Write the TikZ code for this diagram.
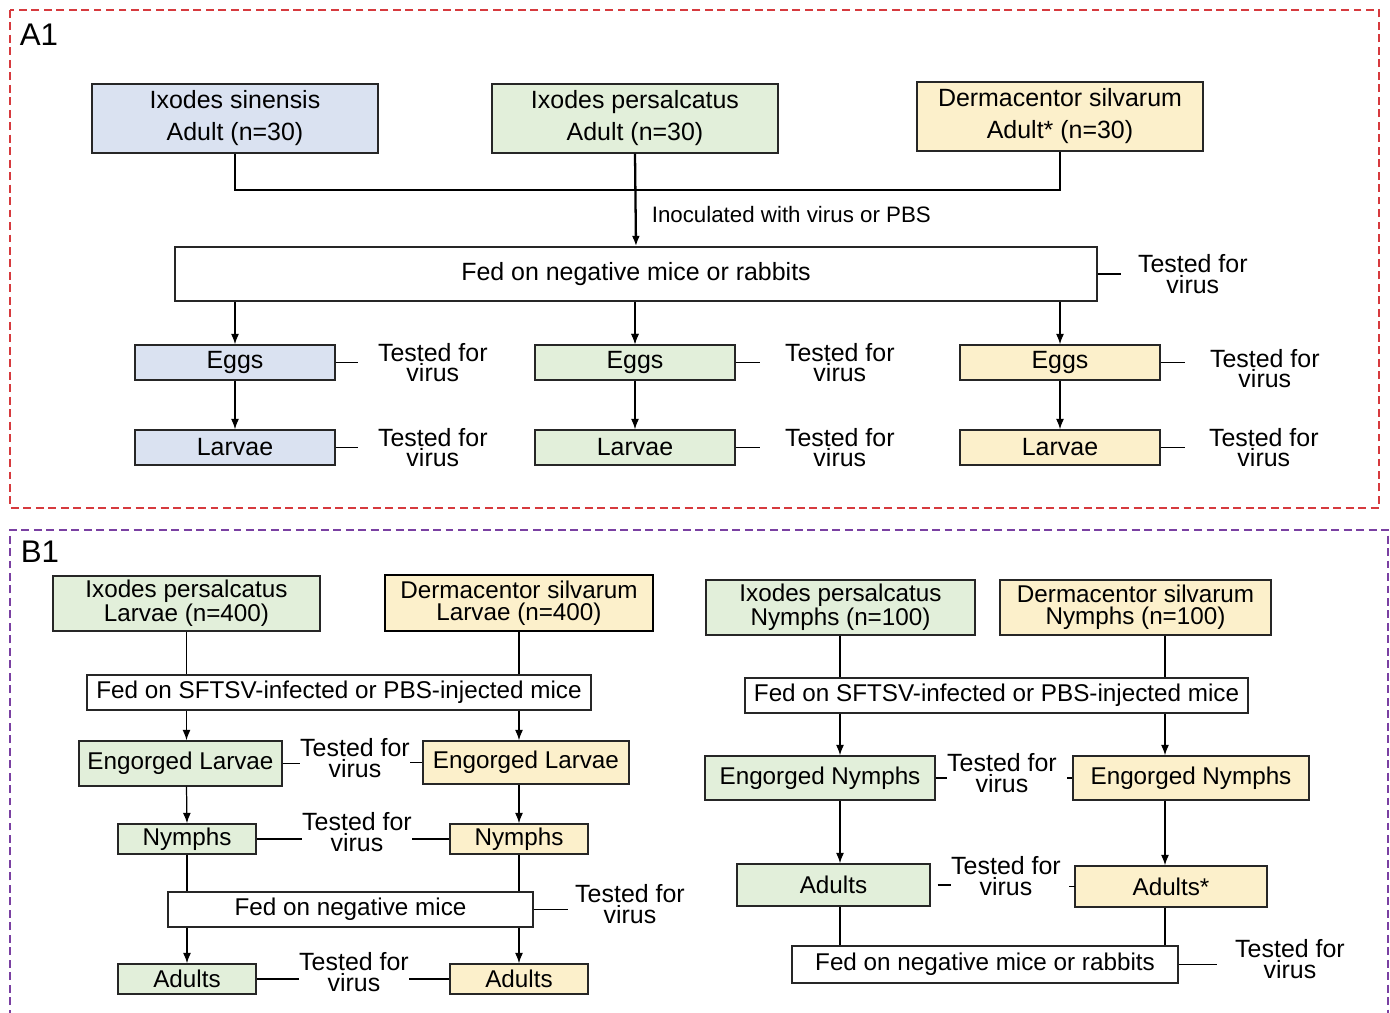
\documentclass[tikz,border=0pt]{standalone}
\usepackage{fontspec}
\setmainfont{Liberation Sans}
\usepackage{xcolor}
\usetikzlibrary{positioning,arrows.meta}
\definecolor{TickBlue}{HTML}{DAE2F1}
\definecolor{TickGreen}{HTML}{E2EFDA}
\definecolor{TickYellow}{HTML}{FCF0CB}
\definecolor{FrameRed}{HTML}{D63A3E}
\definecolor{FramePurple}{HTML}{7A40A2}
\newcommand{\unitpx}{0.02cm}

\begin{document}
\begin{tikzpicture}[x=0.02cm,y=-0.02cm,>={Latex[length=2.1mm,width=1.6mm]},
 box/.style={draw=black!85,line width=0.8pt,inner sep=0pt,align=center,font=\fontsize{14.2}{18.2}\selectfont},
 tbox/.style={box,font=\fontsize{13.8}{12.5}\selectfont},
 sz/.style 2 args={minimum width=#1*\unitpx,minimum height=#2*\unitpx},
 tested/.style={align=center,inner sep=0pt,font=\fontsize{14.2}{11.5}\selectfont},
 frame/.style={line width=0.9pt,dash pattern=on 4.5pt off 2.6pt},
 tag/.style={font=\fontsize{17.8}{20}\selectfont,inner sep=0pt},
 link/.style={line width=0.7pt}]
\useasboundingbox (0,0) rectangle (1390,1013);
\fill[white] (0,0) rectangle (1390,1013);

% ---------------- A1 ----------------
\draw[frame,draw=FrameRed] (10,10) rectangle (1379,508);
\node[tag] (tagA) at (39,35) {A1};

\node[box,fill=TickBlue,sz={286}{69}] (sinA) at (235,118.5) {Ixodes sinensis\\Adult (n=30)};
\node[box,fill=TickGreen,sz={286}{69}] (perA) at (635,118.5) {Ixodes persalcatus\\Adult (n=30)};
\node[box,fill=TickYellow,sz={286}{69}] (silA) at (1060,116.5) {Dermacentor silvarum\\Adult* (n=30)};
\node[box,sz={922}{54}] (fedA) at (636,274) {Fed on negative mice or rabbits};
\coordinate (joinA) at (635,190);

\draw[link] (sinA.south) |- (joinA) -| (silA.south);
\draw[->,line width=1.3pt] (perA.south) -- node[pos=0.66,right=0.3cm,inner sep=0pt,font=\fontsize{12.7}{14}\selectfont] (inoc) {Inoculated with virus or PBS} (fedA.north);

\node[box,fill=TickBlue,sz={200}{35}] (eggsB) at (235,362.5) {Eggs};
\node[box,fill=TickGreen,sz={200}{35}] (eggsG) at (635,362.5) {Eggs};
\node[box,fill=TickYellow,sz={200}{35}] (eggsY) at (1060,362.5) {Eggs};
\node[box,fill=TickBlue,sz={200}{35}] (larvB) at (235,447.5) {Larvae};
\node[box,fill=TickGreen,sz={200}{35}] (larvG) at (635,447.5) {Larvae};
\node[box,fill=TickYellow,sz={200}{35}] (larvY) at (1060,447.5) {Larvae};

\foreach \col in {B,G,Y} {
  \draw[->,link] (eggs\col.north |- fedA.south) -- (eggs\col.north);
  \draw[->,link] (eggs\col.south) -- (larv\col.north);
}
\draw[->,line width=1.3pt] (eggsG.north |- fedA.south) -- (eggsG.north);

\node[tested,right=0.84cm of eggsB] (tEggB) {Tested for\\virus};
\node[tested,right=0.98cm of eggsG] (tEggG) {Tested for\\virus};
\node[tested,right=0.98cm of eggsY,yshift=-0.12cm] (tEggY) {Tested for\\virus};
\node[tested,right=0.84cm of larvB] (tLarvB) {Tested for\\virus};
\node[tested,right=0.98cm of larvG] (tLarvG) {Tested for\\virus};
\node[tested,right=0.96cm of larvY] (tLarvY) {Tested for\\virus};
\node[tested,right=0.8cm of fedA] (tFedA) {Tested for\\virus};

\draw[link] (eggsB.east) -- ++(22,0);
\draw[link] (eggsG.east) -- ++(24,0);
\draw[link] (eggsY.east) -- ++(24,0);
\draw[link] (larvB.east) -- ++(22,0);
\draw[link] (larvG.east) -- ++(24,0);
\draw[link] (larvY.east) -- ++(24,0);
\draw[link] (fedA.east) -- ++(23,0);

% ---------------- B1 ----------------
\draw[frame,draw=FramePurple] (10,1030) -- (10,530) -- (1388,530) -- (1388,1030);
\node[tag] (tagB) at (40,552) {B1};

% larvae branch
\node[tbox,fill=TickGreen,sz={267}{55}] (perL) at (186.5,603.5) {Ixodes persalcatus\\Larvae (n=400)};
\node[tbox,fill=TickYellow,sz={268}{56},line width=1.5pt,draw=black] (silL) at (519,603) {Dermacentor silvarum\\Larvae (n=400)};
\node[tbox,sz={504}{35}] (fedL) at (339,692.5) {Fed on SFTSV-infected or PBS-injected mice};
\node[tbox,fill=TickGreen,sz={203}{45}] (engLG) at (180.5,763.5) {Engorged Larvae};
\node[tbox,fill=TickYellow,sz={206}{43}] (engLY) at (526,762.5) {Engorged Larvae};
\node[tbox,fill=TickGreen,sz={138}{30}] (nymG) at (187,839) {Nymphs};
\node[tbox,fill=TickYellow,sz={138}{30}] (nymY) at (519,839) {Nymphs};
\node[tbox,sz={365}{35}] (fedL2) at (350.5,909.5) {Fed on negative mice};
\node[tbox,fill=TickGreen,sz={138}{30}] (adG) at (187,979) {Adults};
\node[tbox,fill=TickYellow,sz={138}{30}] (adY) at (519,979) {Adults};

\draw[link] (perL.south) -- (perL.south |- fedL.north);
\draw[link] (silL.south) -- (silL.south |- fedL.north);
\draw[->,link] (perL.south |- fedL.south) -- (perL.south |- engLG.north);
\draw[->,link] (silL.south |- fedL.south) -- (silL.south |- engLY.north);
\draw[->,link] (perL.south |- engLG.south) -- (nymG.north);
\draw[->,link] (silL.south |- engLY.south) -- (nymY.north);
\draw[link] (nymG.south) -- (nymG.south |- fedL2.north);
\draw[link] (nymY.south) -- (nymY.south |- fedL2.north);
\draw[->,link] (adG.north |- fedL2.south) -- (adG.north);
\draw[->,link] (adY.north |- fedL2.south) -- (adY.north);

\node[tested] (tEngL) at (355,758) {Tested for\\virus};
\node[tested] (tNym) at (357,832) {Tested for\\virus};
\node[tested] (tFedL) at (630,904) {Tested for\\virus};
\node[tested] (tAd) at (354,972) {Tested for\\virus};

\draw[link] (engLG.east) -- (engLG.east -| tEngL.west);
\draw[link] (tEngL.east |- engLY.west) -- (engLY.west);
\draw[link] (nymG.east) -- (nymG.east -| tNym.west);
\draw[link] (tNym.east |- nymY.west) -- (nymY.west);
\draw[link,shorten >=7*\unitpx] (fedL2.east) -- (fedL2.east -| tFedL.west);
\draw[link] (adG.east) -- (adG.east -| tAd.west);
\draw[link] (tAd.east |- adY.west) -- (adY.west);

% nymph branch
\coordinate (colG) at (840,0);
\coordinate (colY) at (1165,0);
\node[tbox,fill=TickGreen,sz={269}{55}] (perN) at (840.5,607.5) {Ixodes persalcatus\\Nymphs (n=100)};
\node[tbox,fill=TickYellow,sz={271}{55}] (silN) at (1135.5,607.5) {Dermacentor silvarum\\Nymphs (n=100)};
\node[tbox,sz={503}{35}] (fedN) at (996.5,695.5) {Fed on SFTSV-infected or PBS-injected mice};
\node[tbox,fill=TickGreen,sz={230}{44}] (engNG) at (820,778) {Engorged Nymphs};
\node[tbox,fill=TickYellow,sz={236}{44}] (engNY) at (1191,778) {Engorged Nymphs};
\node[tbox,fill=TickGreen,sz={193}{42}] (adNG) at (833.5,885) {Adults};
\node[tbox,fill=TickYellow,sz={192}{41}] (adNY) at (1171,886.5) {Adults*};
\node[tbox,sz={386}{37}] (fedN2) at (985,964.5) {Fed on negative mice or rabbits};

\draw[link] (colG |- perN.south) -- (colG |- fedN.north);
\draw[link] (colY |- silN.south) -- (colY |- fedN.north);
\draw[->,link] (colG |- fedN.south) -- (colG |- engNG.north);
\draw[->,link] (colY |- fedN.south) -- (colY |- engNY.north);
\draw[->,link] (colG |- engNG.south) -- (colG |- adNG.north);
\draw[->,link] (colY |- engNY.south) -- (colY |- adNY.north);
\draw[link] (colG |- adNG.south) -- (colG |- fedN2.north);
\draw[link] (colY |- adNY.south) -- (colY |- fedN2.north);

\node[tested] (tEngN) at (1002,773) {Tested for\\virus};
\node[tested] (tAdN) at (1006,876) {Tested for\\virus};
\node[tested] (tFedN) at (1290,959) {Tested for\\virus};

\draw[link] (engNG.east) -- (engNG.east -| tEngN.west);
\draw[link,shorten <=10*\unitpx] (tEngN.east |- engNY.west) -- (engNY.west);
\draw[link,shorten <=7*\unitpx] (adNG.east) -- (adNG.east -| tAdN.west);
\draw[link,shorten <=14*\unitpx,shorten >=5*\unitpx] (tAdN.east |- adNY.west) -- (adNY.west);
\draw[link,shorten >=18*\unitpx] (fedN2.east) -- (fedN2.east -| tFedN.west);
\end{tikzpicture}
\end{document}
